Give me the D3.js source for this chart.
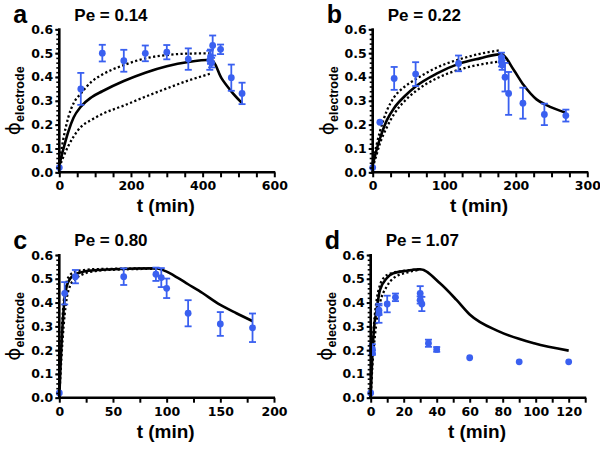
<!DOCTYPE html>
<html>
<head>
<meta charset="utf-8">
<script src="https://cdn.jsdelivr.net/npm/d3@7"></script>
<style>
  html, body { margin: 0; padding: 0; background: #fff; }
  svg { display: block; }
</style>
</head>
<body>
<svg id="chart" width="600" height="451"></svg>
<script>
// ---------------- DATA ----------------
// Panel a (Pe = 0.14)
const aTime = [0, 60, 120, 180, 240, 300, 360, 420, 422, 425, 428, 450, 480, 510];
const aPhi  = [0.02, 0.35, 0.50, 0.468, 0.499, 0.504, 0.475, 0.47, 0.485, 0.46, 0.532, 0.516, 0.397, 0.331];
const aErr  = [0, 0.067, 0.035, 0.046, 0.033, 0.03, 0.045, 0.04, 0.03, 0.02, 0.042, 0.02, 0.055, 0.045];
const aFitT = [0, 10, 25, 40, 60, 90, 120, 180, 240, 300, 360, 425, 453, 477, 510];
const aFit  = [0.03, 0.09, 0.17, 0.23, 0.275, 0.315, 0.34, 0.383, 0.418, 0.445, 0.463, 0.472, 0.394, 0.345, 0.29];
const aUpT  = [0, 10, 25, 40, 60, 90, 120, 180, 240, 300, 360, 420];
const aUp   = [0.04, 0.13, 0.23, 0.29, 0.33, 0.38, 0.41, 0.45, 0.478, 0.492, 0.498, 0.499];
const aLoT  = [0, 10, 25, 40, 60, 90, 120, 180, 240, 300, 360, 420];
const aLo   = [0.02, 0.06, 0.11, 0.15, 0.19, 0.22, 0.245, 0.28, 0.317, 0.352, 0.385, 0.413];

// Panel b (Pe = 0.22)
const bTime = [0, 10, 30, 60, 120, 180, 180, 181, 185, 190, 210, 240, 270];
const bPhi  = [0.02, 0.21, 0.394, 0.412, 0.457, 0.482, 0.464, 0.45, 0.399, 0.331, 0.29, 0.243, 0.238];
const bErr  = [0, 0, 0.048, 0.05, 0.033, 0.02, 0.02, 0.02, 0.06, 0.09, 0.065, 0.045, 0.025];
const bFitT = [0, 5, 10, 20, 30, 45, 60, 90, 120, 150, 180, 197, 211, 229, 243, 270];
const bFit  = [0.03, 0.09, 0.14, 0.22, 0.27, 0.32, 0.36, 0.415, 0.455, 0.478, 0.496, 0.43, 0.366, 0.306, 0.282, 0.25];
const bUpT  = [0, 5, 10, 20, 30, 45, 60, 90, 120, 150, 178];
const bUp   = [0.04, 0.11, 0.17, 0.26, 0.315, 0.36, 0.39, 0.44, 0.473, 0.497, 0.512];
const bLoT  = [0, 5, 10, 20, 30, 45, 60, 90, 120, 150, 178];
const bLo   = [0.02, 0.07, 0.12, 0.19, 0.245, 0.3, 0.34, 0.395, 0.43, 0.452, 0.465];

// Panel c (Pe = 0.80)
const cTime = [0, 5, 15, 60, 90, 95, 100, 120, 150, 180];
const cPhi  = [0.02, 0.439, 0.509, 0.509, 0.519, 0.505, 0.46, 0.355, 0.31, 0.294];
const cErr  = [0, 0.047, 0.028, 0.035, 0.028, 0.04, 0.041, 0.055, 0.05, 0.06];
const cFitT = [0, 1, 2, 3, 5, 7, 10, 15, 20, 30, 50, 90, 100, 110, 120, 130, 150, 165, 180];
const cFit  = [0, 0.12, 0.22, 0.3, 0.42, 0.47, 0.5, 0.518, 0.527, 0.535, 0.54, 0.544, 0.53, 0.505, 0.477, 0.45, 0.39, 0.355, 0.322];
const cUpT  = [0, 1, 2, 3, 5, 7, 10, 15, 20, 30, 50, 90];
const cUp   = [0, 0.15, 0.26, 0.34, 0.44, 0.49, 0.515, 0.53, 0.535, 0.54, 0.542, 0.544];
const cLoT  = [0, 1, 2, 3, 5, 7, 10, 15, 20, 30, 50, 90];
const cLo   = [0, 0.09, 0.17, 0.24, 0.35, 0.42, 0.47, 0.5, 0.515, 0.53, 0.538, 0.542];

// Panel d (Pe = 1.07)
const dTime = [0, 1, 1, 5, 5, 10, 15, 30, 30, 31, 35, 40, 60, 90, 120];
const dPhi  = [0.02, 0.205, 0.19, 0.355, 0.368, 0.394, 0.422, 0.439, 0.411, 0.394, 0.229, 0.203, 0.168, 0.151, 0.151];
const dErr  = [0, 0.02, 0.01, 0.04, 0.02, 0.035, 0.016, 0.03, 0.015, 0.03, 0.015, 0.01, 0, 0, 0];
const dFitT = [0, 0.5, 1, 2, 3.6, 5.6, 9.7, 13.7, 21.8, 30, 42, 52, 60, 78, 99, 120];
const dFit  = [0, 0.1, 0.18, 0.29, 0.37, 0.452, 0.502, 0.523, 0.534, 0.54, 0.481, 0.411, 0.35, 0.278, 0.229, 0.198];
const dUpT  = [0, 0.5, 1, 2, 3.6, 5.6, 8, 12, 20, 30];
const dUp   = [0, 0.12, 0.21, 0.31, 0.41, 0.473, 0.505, 0.522, 0.533, 0.54];
const dLoT  = [0, 0.5, 1, 2, 3.6, 5.6, 9.7, 13.7, 21.8, 30];
const dLo   = [0, 0.07, 0.13, 0.22, 0.32, 0.397, 0.467, 0.502, 0.526, 0.538];

const panelLetters = ["a", "b", "c", "d"];
const peLabels = ["Pe = 0.14", "Pe = 0.22", "Pe = 0.80", "Pe = 1.07"];
const xMaxes = [600, 300, 200, 130];
const xTickSteps = [50, 25, 25, 10];
const xLabelSteps = [200, 100, 50, 20];
const xLabelMax = [600, 300, 200, 120];
const yMajorTicks = [0, 0.1, 0.2, 0.3, 0.4, 0.5, 0.6];
const xTitle = "t (min)";
const yTitleMain = "ϕ";
const yTitleSub = "electrode";

// ---------------- LAYOUT ----------------
const layout = [
  { x0: 59.3,  x1: 274.3, y0: 172.3, y1: 29.3 },
  { x0: 372.7, x1: 587.3, y0: 172.3, y1: 29.3 },
  { x0: 59.3,  x1: 274.0, y0: 397.7, y1: 255.0 },
  { x0: 370.7, x1: 585.2, y0: 397.7, y1: 255.0 }
];
const datasets = [
  { t: aTime, v: aPhi, e: aErr, fit: [aFitT, aFit], up: [aUpT, aUp], lo: [aLoT, aLo] },
  { t: bTime, v: bPhi, e: bErr, fit: [bFitT, bFit], up: [bUpT, bUp], lo: [bLoT, bLo] },
  { t: cTime, v: cPhi, e: cErr, fit: [cFitT, cFit], up: [cUpT, cUp], lo: [cLoT, cLo] },
  { t: dTime, v: dPhi, e: dErr, fit: [dFitT, dFit], up: [dUpT, dUp], lo: [dLoT, dLo] }
];

const BLUE = "#3a60f0";
const svg = d3.select("#chart");
const tickFont = "'DejaVu Sans', sans-serif";
const titleFont = "'Liberation Sans', Arial, sans-serif";

layout.forEach((L, i) => {
  const D = datasets[i];
  const x = d3.scaleLinear().domain([0, xMaxes[i]]).range([L.x0, L.x1]);
  const y = d3.scaleLinear().domain([0, 0.6]).range([L.y0, L.y1]);
  const g = svg.append("g");

  // Lines
  const line = d3.line().x(d => x(d[0])).y(d => y(d[1])).curve(d3.curveMonotoneX);
  const pairs = (arr) => arr[0].map((t, k) => [t, arr[1][k]]);
  [D.up, D.lo].forEach(arr => {
    g.append("path").attr("d", line(pairs(arr)))
      .attr("fill", "none").attr("stroke", "#000")
      .attr("stroke-width", 2.3).attr("stroke-dasharray", "2.2,2.4");
  });
  g.append("path").attr("d", line(pairs(D.fit)))
    .attr("fill", "none").attr("stroke", "#000").attr("stroke-width", 2.6)
    .attr("stroke-linejoin", "round");

  // Error bars
  const pts = D.t.map((t, k) => ({ t, v: D.v[k], e: D.e[k] }));
  const eb = g.append("g").attr("stroke", BLUE).attr("stroke-width", 1.8);
  pts.filter(p => p.e > 0).forEach(p => {
    const cx = x(p.t);
    eb.append("line").attr("x1", cx).attr("x2", cx).attr("y1", y(p.v - p.e)).attr("y2", y(p.v + p.e));
    eb.append("line").attr("x1", cx - 3.5).attr("x2", cx + 3.5).attr("y1", y(p.v - p.e)).attr("y2", y(p.v - p.e));
    eb.append("line").attr("x1", cx - 3.5).attr("x2", cx + 3.5).attr("y1", y(p.v + p.e)).attr("y2", y(p.v + p.e));
  });
  g.selectAll("circle.pt").data(pts).enter().append("circle")
    .attr("cx", p => x(p.t)).attr("cy", p => y(p.v)).attr("r", 3.4).attr("fill", BLUE);

  // X axis
  const step = xTickSteps[i];
  const xTicks = d3.range(0, xMaxes[i] + step / 2, step);
  const xAxis = d3.axisBottom(x).tickValues(xTicks).tickSizeOuter(0).tickSizeInner(5).tickPadding(4)
    .tickFormat(v => (Math.abs(v % xLabelSteps[i]) < 1e-9 && v <= xLabelMax[i]) ? String(v) : "");
  const gx = g.append("g").attr("transform", `translate(0,${L.y0})`).call(xAxis);
  gx.select(".domain").attr("stroke", "#000").attr("stroke-width", 2.6)
    .attr("d", `M${L.x0 - 1.3},0H${L.x1 + 1}`);
  gx.selectAll(".tick line").attr("stroke", "#000").attr("stroke-width", 2);
  gx.selectAll(".tick text").attr("font-family", tickFont).attr("font-weight", "bold")
    .attr("font-size", "12.5px").attr("fill", "#000");

  // Y axis: minor ticks
  const minor = d3.range(0, 0.6001, 0.02);
  const gym = g.append("g").attr("transform", `translate(${L.x0},0)`)
    .call(d3.axisLeft(y).tickValues(minor).tickSizeOuter(0).tickSizeInner(3).tickFormat(""));
  gym.select(".domain").remove();
  gym.selectAll(".tick line").attr("stroke", "#000").attr("stroke-width", 1.6);
  const yAxis = d3.axisLeft(y).tickValues(yMajorTicks).tickSizeOuter(0).tickSizeInner(4).tickPadding(2)
    .tickFormat(d3.format(".1f"));
  const gy = g.append("g").attr("transform", `translate(${L.x0},0)`).call(yAxis);
  gy.select(".domain").attr("stroke", "#000").attr("stroke-width", 2.6)
    .attr("d", `M0,${L.y0 + 1.3}V${L.y1 - 1}`);
  gy.selectAll(".tick line").attr("stroke", "#000").attr("stroke-width", 2);
  gy.selectAll(".tick text").attr("font-family", tickFont).attr("font-weight", "bold")
    .attr("font-size", "12.5px").attr("fill", "#000");

  // X title
  g.append("text").attr("x", (L.x0 + L.x1) / 2 - 1).attr("y", L.y0 + 40)
    .attr("text-anchor", "middle").attr("font-family", titleFont).attr("font-weight", "bold")
    .attr("font-size", "19px").text(xTitle);

  // Y title
  const yc = (L.y0 + L.y1) / 2;
  const yt = g.append("text").attr("transform", `translate(${L.x0 - 39},${yc}) rotate(-90)`)
    .attr("text-anchor", "middle");
  yt.append("tspan").attr("font-family", "'DejaVu Sans', sans-serif").attr("font-size", "20px").text(yTitleMain);
  yt.append("tspan").attr("font-family", titleFont).attr("font-weight", "bold")
    .attr("font-size", "12.5px").attr("dy", 4).text(yTitleSub);

  // Panel letter and Pe label
  const top = L.y1 - 29.3;
  g.append("text").attr("x", L.x0 - 46).attr("y", top + 23)
    .attr("font-family", titleFont).attr("font-weight", "bold").attr("font-size", "25px")
    .text(panelLetters[i]);
  g.append("text").attr("x", L.x0 + 15).attr("y", top + 20.5)
    .attr("font-family", titleFont).attr("font-weight", "bold").attr("font-size", "17px")
    .text(peLabels[i]);
});
</script>
</body>
</html>
